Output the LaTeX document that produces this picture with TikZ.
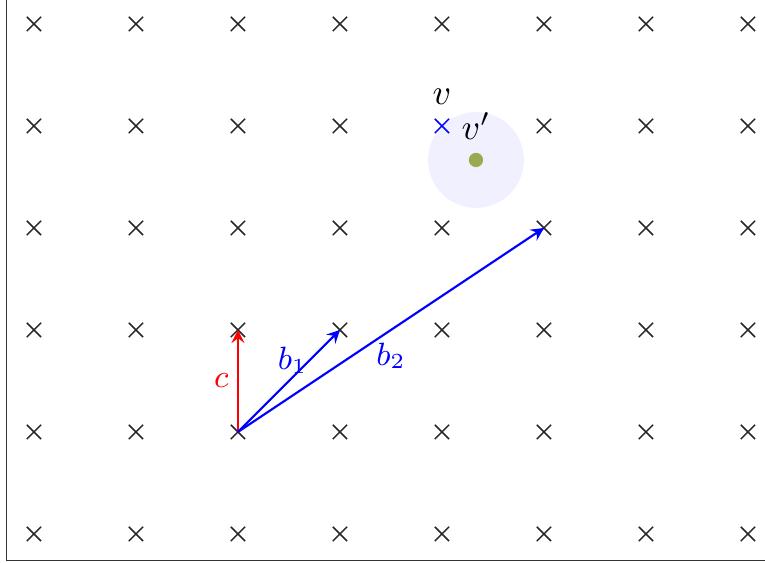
\documentclass[tikz,border=0pt]{standalone}
\usepackage{amsmath,amssymb}
\usepackage{xcolor}
\usepackage{tikz}
\definecolor{vpgreen}{RGB}{155,170,80}

\begin{document}
\begin{tikzpicture}[x=1cm, y=1cm, every node/.style={font=\small},
  cross/.style={thin},
  vec/.style={-stealth, semithick}]
\useasboundingbox (-0.333,-0.275) rectangle (7.167,5.235);
\draw[thin, black!80] (-0.27,5.3) -- (-0.27,-0.262) -- (7.3,-0.262);
\fill[blue!6] (13/3,11/3) circle (0.47);
\foreach \i in {0,...,7}
  \foreach \j in {0,...,5} {
    \coordinate (P\i\j) at (\i,\j);
    \ifnum\i\j=44 \def\cc{blue}\else\def\cc{black!85}\fi
    \draw[cross, \cc] (\i-0.07,\j-0.07) -- (\i+0.07,\j+0.07)
                      (\i-0.07,\j+0.07) -- (\i+0.07,\j-0.07);
  }
\node[circle, fill=vpgreen, inner sep=0pt, minimum size=0.14cm] (vp) at (13/3,11/3) {};
\node[above=2.5pt, font=\normalsize] (v) at (P44) {$v$};
\node[above=0pt, font=\normalsize] (vl) at (vp.north) {$v'$};
\draw[vec, red] (P21) -- node[left, xshift=1pt] {$c$} (P22);
\draw[vec, blue] (P21) -- node[above, yshift=-1.5pt, xshift=1pt, text=blue] {$b_1$} (P32);
\draw[vec, blue] (P21) -- node[below, text=blue] {$b_2$} (P53);
\end{tikzpicture}
\end{document}
